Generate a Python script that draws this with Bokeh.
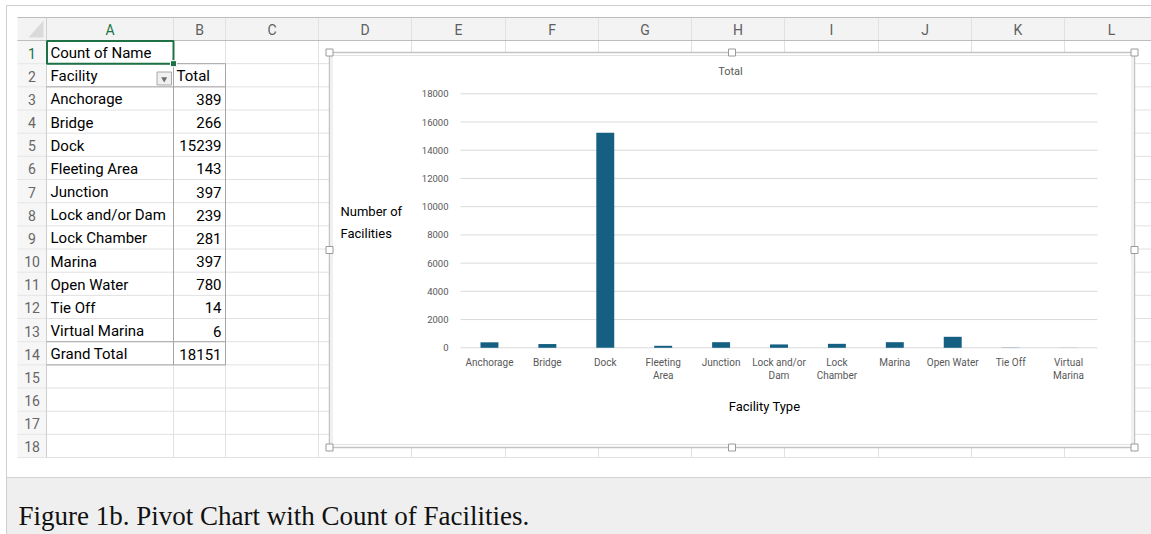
from bokeh.plotting import figure
from bokeh.models import Range1d, LinearAxis, FixedTicker, ColumnDataSource
from bokeh.core.properties import value
from bokeh.embed import file_html
from bokeh.resources import INLINE

# ---------------- data ----------------
facilities = ["Anchorage", "Bridge", "Dock", "Fleeting Area", "Junction",
              "Lock and/or Dam", "Lock Chamber", "Marina", "Open Water",
              "Tie Off", "Virtual Marina"]
counts = [389, 266, 15239, 143, 397, 239, 281, 397, 780, 14, 6]
grand_total = 18151
chart_labels = ["Anchorage", "Bridge", "Dock", "Fleeting\nArea", "Junction",
                "Lock and/or\nDam", "Lock\nChamber", "Marina", "Open Water",
                "Tie Off", "Virtual\nMarina"]
y_ticks = [0, 2000, 4000, 6000, 8000, 10000, 12000, 14000, 16000, 18000]
col_letters = ["A", "B", "C", "D", "E", "F", "G", "H", "I", "J", "K", "L"]
row_numbers = list(range(1, 19))
chart_title = "Total"
y_title = "Number of\nFacilities"
x_title = "Facility Type"
caption = "Figure 1b. Pivot Chart with Count of Facilities."

# ---------------- geometry (pixels) ----------------
W, H = 1151, 534
col_edges = [17, 46, 173, 225, 318, 411, 505, 598, 691, 784, 878, 971, 1064, 1157]
HDR_TOP, HDR_BOT = 17, 40
ROW_H = 23.17
row_edges = [HDR_BOT + i * ROW_H for i in range(len(row_numbers) + 1)]
SHEET_BOT = row_edges[-1]

# chart plot area
PL, PR = 460.0, 1097.0
Y0_PX, YTOP_PX = 347.3, 93.3
YMAX = y_ticks[-1]
n = len(facilities)
band = (PR - PL) / n
px_per_val = (Y0_PX - YTOP_PX) / YMAX

FONT = value("Roboto")

p = figure(width=W, height=H, x_range=Range1d(0, W), y_range=Range1d(H, 0),
           x_axis_type=None, y_axis_type=None, toolbar_location=None,
           output_backend="svg", min_border=0, outline_line_color=None,
           background_fill_color="white", border_fill_color="white")

p.extra_x_ranges = {"idx": Range1d(-PL / band - 0.5, (W - PL) / band - 0.5)}
p.extra_y_ranges = {"val": Range1d((Y0_PX - H) / px_per_val, Y0_PX / px_per_val)}

# ---------------- outer document frame ----------------
p.segment(x0=[6, 6], y0=[5, 5], x1=[W, 6], y1=[5, H], line_color="#cfcfcf", line_width=1)

# ---------------- sheet ----------------
p.quad(left=col_edges[0], right=W, top=HDR_TOP, bottom=HDR_BOT,
       fill_color="#f3f3f3", line_color=None)
p.quad(left=col_edges[0], right=col_edges[1], top=HDR_BOT, bottom=SHEET_BOT,
       fill_color="#f6f6f6", line_color=None)
# corner triangle
p.patch(x=[43, 43, 28], y=[20, 37, 37], fill_color="#dadada", line_color=None)

# grid lines
p.segment(x0=[col_edges[1]] * len(row_edges), x1=[W] * len(row_edges),
          y0=row_edges, y1=row_edges, line_color="#e1e1e1", line_width=1)
p.segment(x0=[col_edges[0]] * len(row_edges), x1=[col_edges[1]] * len(row_edges),
          y0=row_edges, y1=row_edges, line_color="#e6e6e6", line_width=1)
p.segment(x0=col_edges[1:-1], x1=col_edges[1:-1],
          y0=[HDR_TOP] * (len(col_edges) - 2), y1=[SHEET_BOT] * (len(col_edges) - 2),
          line_color="#e1e1e1", line_width=1)
p.segment(x0=[col_edges[0], col_edges[0]], x1=[W, W], y0=[HDR_TOP, HDR_BOT],
          y1=[HDR_TOP, HDR_BOT], line_color="#bdbdbd", line_width=1)
p.segment(x0=[col_edges[1]], x1=[col_edges[1]], y0=[HDR_TOP], y1=[SHEET_BOT],
          line_color="#cfcfcf", line_width=1)

# column letters
col_centers = [(col_edges[i + 1] + col_edges[i + 2]) / 2 for i in range(len(col_letters))]
col_centers[-1] = 1111
p.text(x=col_centers, y=[29.5] * len(col_letters), text=col_letters,
       text_color=["#217346"] + ["#5f5f5f"] * (len(col_letters) - 1),
       text_font=FONT, text_font_size=value("14px"), text_align="center",
       text_baseline="middle")
# row numbers
row_centers = [(row_edges[i] + row_edges[i + 1]) / 2 + 1 for i in range(len(row_numbers))]
p.text(x=[31.5] * len(row_numbers), y=row_centers, text=[str(r) for r in row_numbers],
       text_color=["#217346"] + ["#666666"] * (len(row_numbers) - 1),
       text_font=FONT, text_font_size=value("14px"), text_align="center",
       text_baseline="middle")

# pivot table borders
r2_top, r2_bot = row_edges[1], row_edges[2]
gt_top, gt_bot = row_edges[13], row_edges[14]
BC = "#a6a6a6"
p.segment(x0=[col_edges[1]] * 4, x1=[col_edges[3]] * 4,
          y0=[r2_top, r2_bot, gt_top, gt_bot], y1=[r2_top, r2_bot, gt_top, gt_bot],
          line_color=BC, line_width=1)
p.segment(x0=[col_edges[2], col_edges[3]], x1=[col_edges[2], col_edges[3]],
          y0=[r2_top, r2_top], y1=[gt_bot, gt_bot], line_color=BC, line_width=1)

# cell texts
A_X, B_X = 50, 221
cellA = ["Count of Name", "Facility"] + facilities + ["Grand Total"]
p.text(x=[A_X] * len(cellA), y=row_centers[:len(cellA)], text=cellA,
       text_color="#000000", text_font=FONT, text_font_size=value("15px"),
       text_align="left", text_baseline="middle")
p.text(x=[176], y=[row_centers[1]], text=["Total"], text_color="#000000",
       text_font=FONT, text_font_size=value("15px"), text_align="left",
       text_baseline="middle")
vals_txt = [str(c) for c in counts] + [str(grand_total)]
p.text(x=[B_X] * len(vals_txt), y=row_centers[2:2 + len(vals_txt)], text=vals_txt,
       text_color="#000000", text_font=FONT, text_font_size=value("15px"),
       text_align="right", text_baseline="middle")

# filter button in A2
p.quad(left=156.5, right=171, top=71.5, bottom=84.5, fill_color="#f0f0f0",
       line_color="#a8a8a8", line_width=1)
p.scatter(x=[163.7], y=[78.5], marker="inverted_triangle", size=6,
          fill_color="#6e6e6e", line_color=None)

# A1 selection
p.quad(left=col_edges[1] + 0.5, right=col_edges[2], top=row_edges[0] + 0.5,
       bottom=row_edges[1], fill_color=None, line_color="#1e7145", line_width=2)
p.scatter(x=[col_edges[2]], y=[row_edges[1]], marker="square", size=6,
          fill_color="#1e7145", line_color="white", line_width=1)

# ---------------- chart ----------------
CL, CR, CT, CB = 329, 1134, 52, 447
p.quad(left=CL, right=CR, top=CT, bottom=CB, fill_color="white",
       line_color="#c4c4c4", line_width=1.5)
p.quad(left=CL + 2.5, right=CR - 2.5, top=CT + 3, bottom=CB - 3, fill_color=None,
       line_color="#e2e2e2", line_width=1)
hx = [CL, (CL + CR) / 2, CR, CL, CR, CL, (CL + CR) / 2, CR]
hy = [CT, CT, CT, (CT + CB) / 2, (CT + CB) / 2, CB, CB, CB]
p.scatter(x=hx, y=hy, marker="square", size=7, fill_color="white",
          line_color="#9a9a9a", line_width=1)

# gridlines
p.segment(x0=[-0.5] * len(y_ticks), x1=[n - 0.5] * len(y_ticks), y0=y_ticks, y1=y_ticks,
          x_range_name="idx", y_range_name="val", line_color="#d9d9d9", line_width=1)

src = ColumnDataSource(dict(x=list(range(n)), top=counts, name=facilities))
p.vbar(x="x", top="top", bottom=0, width=0.31, source=src,
       x_range_name="idx", y_range_name="val", fill_color="#156082", line_color=None)

yaxis = LinearAxis(y_range_name="val", fixed_location=PL,
                   ticker=FixedTicker(ticks=y_ticks),
                   axis_line_color=None, major_tick_line_color=None,
                   minor_tick_line_color=None, major_tick_in=0, major_tick_out=0,
                   major_label_standoff=12, major_label_text_font="Roboto",
                   major_label_text_font_size="9.5px",
                   major_label_text_color="#595959")
p.add_layout(yaxis, "left")

xaxis = LinearAxis(x_range_name="idx", y_range_name="val", fixed_location=0,
                   ticker=FixedTicker(ticks=list(range(n))),
                   major_label_overrides={i: chart_labels[i] for i in range(n)},
                   axis_line_color=None, major_tick_line_color=None,
                   minor_tick_line_color=None, major_tick_in=0, major_tick_out=0,
                   major_label_standoff=9, major_label_text_font="Roboto",
                   major_label_text_font_size="10px",
                   major_label_text_color="#595959")
p.add_layout(xaxis, "below")

p.text(x=[730], y=[70.5], text=[chart_title], text_color="#595959", text_font=FONT,
       text_font_size=value("11px"), text_align="center", text_baseline="middle")
p.text(x=[340], y=[222], text=[y_title], text_color="#000000", text_font=FONT,
       text_font_size=value("13px"), text_align="left", text_baseline="middle",
       text_line_height=1.5)
p.text(x=[764], y=[406], text=[x_title], text_color="#000000", text_font=FONT,
       text_font_size=value("13px"), text_align="center", text_baseline="middle")

# ---------------- caption ----------------
p.quad(left=6, right=W, top=477, bottom=H, fill_color="#efefef", line_color=None)
p.segment(x0=[6], x1=[W], y0=[477], y1=[477], line_color="#d2d2d2", line_width=1)
p.segment(x0=[6], x1=[6], y0=[477], y1=[H], line_color="#cfcfcf", line_width=1)
p.text(x=[18], y=[515], text=[caption], text_color="#111111",
       text_font=value("Liberation Serif"), text_font_size=value("27px"),
       text_align="left", text_baseline="alphabetic")

open("out.html", "w").write(file_html(p, INLINE))
